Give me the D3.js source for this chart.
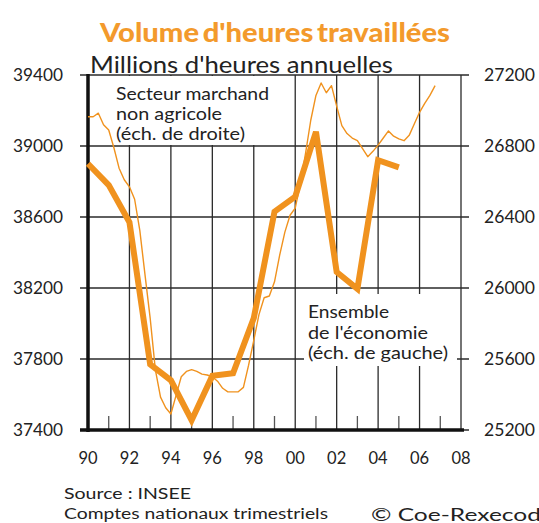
<!DOCTYPE html>
<html><head><meta charset="utf-8">
<script src="https://cdn.jsdelivr.net/npm/d3@7"></script>
<style>
html,body{margin:0;padding:0;background:#fff;}
svg{display:block;font-family:Lato,"Noto Sans",sans-serif;}
</style></head>
<body>
<svg id="chart" width="539" height="523"></svg>
<script>
// ---------- data ----------
const title = "Volume d'heures travaillées";
const subtitle = "Millions d'heures annuelles";
const ensembleYears = [1990,1991,1992,1993,1994,1995,1996,1997,1998,1999,2000,2001,2002,2003,2004,2005];
const ensembleValues = [38900,38780,38570,37770,37680,37455,37705,37720,38030,38630,38715,39080,38290,38195,38920,38880];
const marchandStartYear = 1990; // quarterly series, 1990Q1 .. 2006Q4
const marchandValues = [
  26965,26965,26985,26920, 26890,26790,26675,26610, 26570,26500,26325,26075,
  25830,25540,25385,25325, 25290,25395,25500,25530, 25540,25530,25515,25510,
  25500,25475,25435,25415, 25415,25415,25440,25565, 25705,25850,25945,25955,
  26035,26185,26315,26410, 26450,26590,26760,26945, 27085,27155,27100,27140,
  27025,26915,26870,26845, 26830,26785,26740,26770, 26805,26845,26885,26855,
  26840,26830,26860,26925, 26990,27040,27085,27140
];
const leftTicks = [37400,37800,38200,38600,39000,39400];
const rightTicks = [25200,25600,26000,26400,26800,27200];
const xMajor = [1990,1992,1994,1996,1998,2000,2002,2004,2006,2008];
const xLabels = ["90","92","94","96","98","00","02","04","06","08"];
const xMinor = [1991,1993,1995,1997,1999,2001,2003,2005,2007];
const labelMarchand = ["Secteur marchand","non agricole","(éch. de droite)"];
const labelEnsemble = ["Ensemble","de l'économie","(éch. de gauche)"];
const sourceLines = ["Source : INSEE","Comptes nationaux trimestriels"];
const copyright = "© Coe-Rexecode";

// ---------- layout / style ----------
const orange = "#F0921E";
const gridCol = "#2a2a2a";
const L = 88, R = 461, T = 75, B = 430;
const wMarchand = [153,106,129];
const wEnsemble = [81,120,140];
const wSource = [127,264];
const svg = d3.select("#chart");
const x = d3.scaleLinear().domain([1990,2008]).range([L,R]);
const yL = d3.scaleLinear().domain([37400,39400]).range([B,T]);
const yR = d3.scaleLinear().domain([25200,27200]).range([B,T]);

// title
svg.append("text").attr("x",275).attr("y",42).attr("text-anchor","middle")
  .attr("fill","#F39A2C").attr("font-size",26).attr("font-weight",900)
  .attr("textLength",350).attr("lengthAdjust","spacingAndGlyphs")
  .attr("word-spacing",-3)
  .text(title);
svg.append("text").attr("x",90).attr("y",73).attr("fill","#222")
  .attr("font-size",22.5).attr("textLength",303).attr("lengthAdjust","spacingAndGlyphs")
  .text(subtitle);

// horizontal grid + ticks
const g = svg.append("g");
g.selectAll("line.h").data(leftTicks).join("line")
  .attr("x1",L-8).attr("x2",R+8)
  .attr("y1",d=>yL(d)).attr("y2",d=>yL(d))
  .attr("stroke",gridCol).attr("stroke-width",1.3);
g.selectAll("line.v").data(xMajor).join("line")
  .attr("x1",d=>x(d)).attr("x2",d=>x(d))
  .attr("y1",T).attr("y2",B)
  .attr("stroke",gridCol).attr("stroke-width",1.3);
g.selectAll("line.m").data(xMinor).join("line")
  .attr("x1",d=>x(d)).attr("x2",d=>x(d))
  .attr("y1",B-14).attr("y2",B)
  .attr("stroke","#555").attr("stroke-width",1.3);

// label boxes covering the grid
svg.append("rect").attr("x",L+2).attr("y",T+1).attr("width",193).attr("height",yL(39000)-T-2).attr("fill","#fff");
svg.append("rect").attr("x",304).attr("y",294).attr("width",153).attr("height",72).attr("fill","#fff");

// axes lines
svg.append("line").attr("x1",L).attr("x2",L).attr("y1",T-1).attr("y2",B+2)
  .attr("stroke","#111").attr("stroke-width",3.5);
svg.append("line").attr("x1",L-8).attr("x2",R+3).attr("y1",B).attr("y2",B)
  .attr("stroke","#111").attr("stroke-width",3.5);

// axis labels
svg.append("g").selectAll("text").data(leftTicks).join("text")
  .attr("x",63).attr("y",d=>yL(d)+6).attr("text-anchor","end")
  .attr("font-size",16.5).attr("fill","#222")
  .attr("textLength",50).attr("lengthAdjust","spacingAndGlyphs").text(d=>d);
svg.append("g").selectAll("text").data(rightTicks).join("text")
  .attr("x",484).attr("y",d=>yR(d)+6).attr("text-anchor","start")
  .attr("font-size",16.5).attr("fill","#222")
  .attr("textLength",51).attr("lengthAdjust","spacingAndGlyphs").text(d=>d);
svg.append("g").selectAll("text").data(xMajor).join("text")
  .attr("x",d=>x(d)).attr("y",464).attr("text-anchor","middle")
  .attr("font-size",16.5).attr("fill","#222").text((d,i)=>xLabels[i]);

// lines
const thin = d3.line().x((d,i)=>x(marchandStartYear + i/4)).y(d=>yR(d));
svg.append("path").datum(marchandValues).attr("d",thin)
  .attr("fill","none").attr("stroke",orange).attr("stroke-width",1.4).attr("stroke-linejoin","round");
const thick = d3.line().x((d,i)=>x(ensembleYears[i])).y(d=>yL(d));
svg.append("path").datum(ensembleValues).attr("d",thick)
  .attr("fill","none").attr("stroke",orange).attr("stroke-width",6).attr("stroke-linejoin","miter");

// annotations
svg.append("g").selectAll("text").data(labelMarchand).join("text")
  .attr("x",116).attr("y",(d,i)=>100+i*20).attr("font-size",16.5).attr("fill","#222")
  .attr("textLength",(d,i)=>wMarchand[i]).attr("lengthAdjust","spacingAndGlyphs").text(d=>d);
svg.append("g").selectAll("text").data(labelEnsemble).join("text")
  .attr("x",308).attr("y",(d,i)=>318+i*20.5).attr("font-size",16.5).attr("fill","#222")
  .attr("textLength",(d,i)=>wEnsemble[i]).attr("lengthAdjust","spacingAndGlyphs").text(d=>d);

// source
svg.append("g").selectAll("text").data(sourceLines).join("text")
  .attr("x",64).attr("y",(d,i)=>499+i*20).attr("font-size",15.5).attr("fill","#222")
  .attr("textLength",(d,i)=>wSource[i]).attr("lengthAdjust","spacingAndGlyphs").text(d=>d);
svg.append("text").attr("x",371).attr("y",521).attr("font-size",17.5).attr("fill","#222")
  .attr("textLength",183).attr("lengthAdjust","spacingAndGlyphs").text(copyright);
</script>
</body></html>
